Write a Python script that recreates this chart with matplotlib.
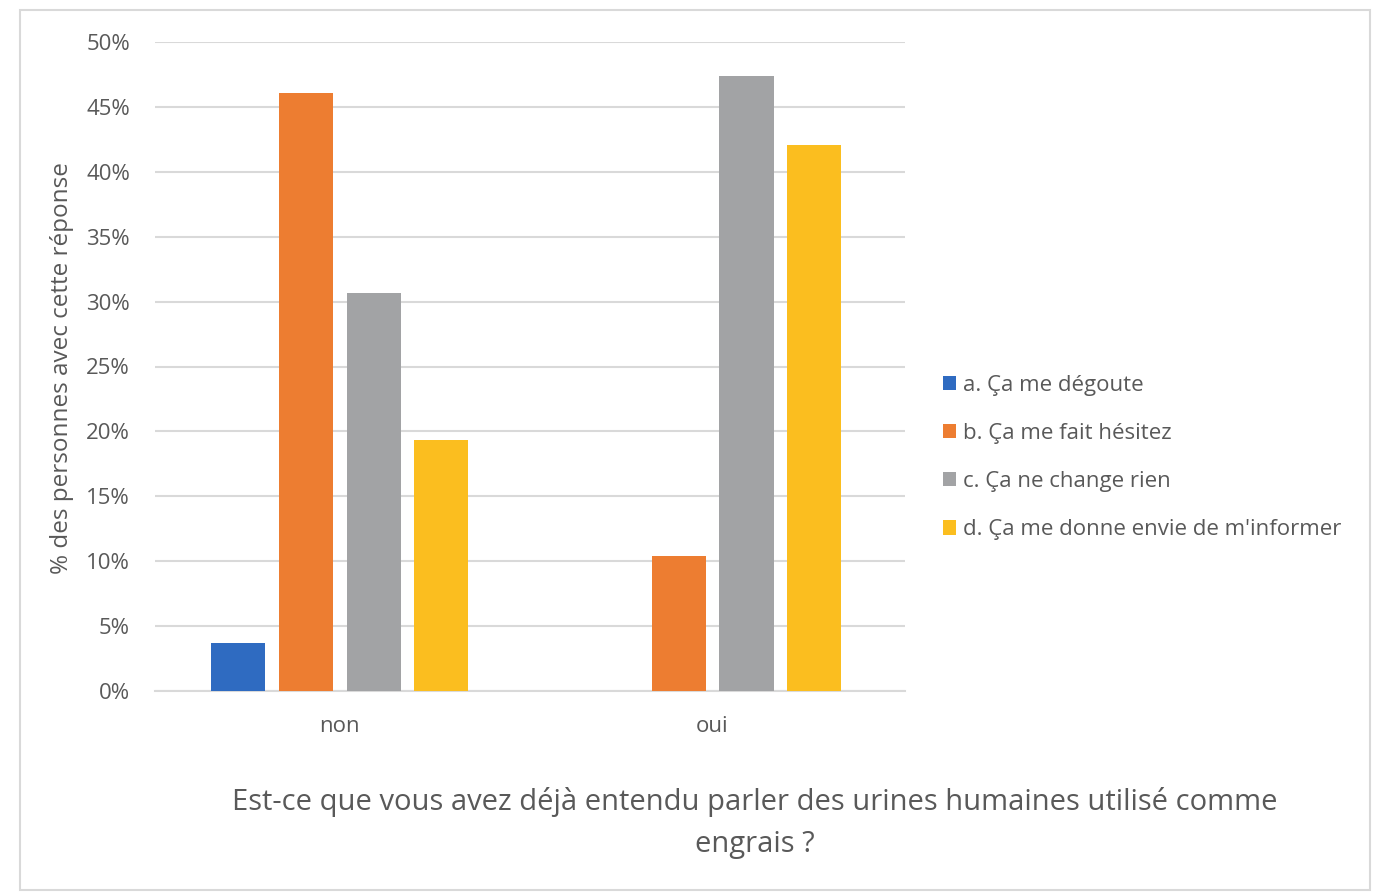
import matplotlib
matplotlib.use("Agg")
import matplotlib.pyplot as plt
from matplotlib import font_manager
from matplotlib.patches import Rectangle, Patch
import numpy as np

categories = ["non", "oui"]
series_labels = [
    "a. Ça me dégoute",
    "b. Ça me fait hésitez",
    "c. Ça ne change rien",
    "d. Ça me donne envie de m'informer",
]
values_a = [3.7, 0.0]
values_b = [46.1, 10.4]
values_c = [30.7, 47.4]
values_d = [19.3, 42.1]
yticks = [0, 5, 10, 15, 20, 25, 30, 35, 40, 45, 50]
ylabel = "% des personnes avec cette réponse"
xlabel = "Est-ce que vous avez déjà entendu parler des urines humaines utilisé comme\nengrais ?"

colors = ["#2F6BC1", "#ED7D31", "#A2A3A5", "#FBBE1F"]
text_color = "#595959"

available = {f.name for f in font_manager.fontManager.ttflist}
main_font = "Open Sans" if "Open Sans" in available else "DejaVu Sans"
plt.rcParams["font.family"] = [main_font, "DejaVu Sans"]

fig = plt.figure(figsize=(13.76, 8.93), dpi=100)
fig.patch.set_facecolor("white")
fig.patches.append(Rectangle((20 / 1376, 1 - 890 / 893), 1350 / 1376, 880 / 893,
                             transform=fig.transFigure, fill=False,
                             edgecolor="#d9d9d9", linewidth=1.5))

ax = fig.add_axes([155 / 1376, 1 - 691 / 893, 750 / 1376, 649 / 893])
x = np.arange(len(categories))
width = 0.145
step = 0.182
all_vals = [values_a, values_b, values_c, values_d]
handles = []
for i, (vals, col, lab) in enumerate(zip(all_vals, colors, series_labels)):
    ax.bar(x + (i - 1.5) * step, vals, width=width, color=col, zorder=3)
    handles.append(Patch(facecolor=col, label=lab))

ax.set_xlim(-0.495, 1.516)
ax.set_ylim(0, 50)
ax.set_yticks(yticks)
ax.set_yticklabels([f"{v}%" for v in yticks])
ax.set_xticks(x)
ax.set_xticklabels(categories)
ax.grid(axis="y", color="#d9d9d9", linewidth=1.5, zorder=0)
for s in ["top", "right", "left"]:
    ax.spines[s].set_visible(False)
ax.spines["bottom"].set_color("#d9d9d9")
ax.spines["bottom"].set_linewidth(1.5)
ax.tick_params(axis="both", length=0, colors=text_color, labelsize=16)
ax.tick_params(axis="y", pad=18)
ax.tick_params(axis="x", pad=18)

fig.text(62 / 1376, 1 - 368 / 893, ylabel, rotation=90, ha="center", va="center",
         fontsize=17.5, color=text_color)

fig.legend(handles=handles, loc="upper left",
           bbox_to_anchor=(943 / 1376, 1 - 375 / 893),
           frameon=False, fontsize=16, labelcolor=text_color,
           handlelength=0.6, handleheight=0.6, handletextpad=0.3,
           labelspacing=1.22, borderaxespad=0, borderpad=0)

fig.text(755 / 1376, 1 - 823 / 893, xlabel, ha="center", va="center",
         fontsize=21, color=text_color, linespacing=1.58)

fig.savefig("out.png", dpi=100)
